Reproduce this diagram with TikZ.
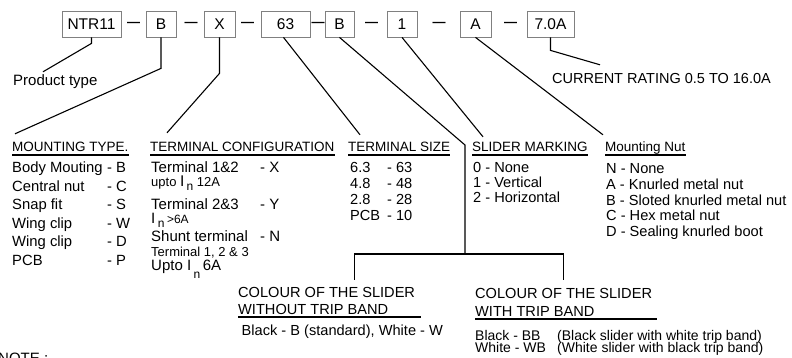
\documentclass[tikz,border=0pt]{standalone}
\usepackage{fontspec}
\setmainfont{Liberation Sans}
\begin{document}
\begin{tikzpicture}[x=1pt, y=-1pt,
    box/.style={draw=gray, line width=0.8pt, minimum height=26pt, inner sep=0pt, font=\fontsize{15.5}{18}\selectfont},
    lbl/.style={anchor=base west, inner sep=0pt, text height=10.5pt, text depth=0pt, font=\fontsize{14.6}{17}\selectfont},
    hd/.style={lbl, text height=10pt, font=\fontsize{13.5}{16}\selectfont,
        append after command={([yshift=-3pt]\tikzlastnode.base west) edge[line width=1.1pt] ([shift={(#1,-3pt)}]\tikzlastnode.base east)}},
    hd/.default=0pt,
    link/.style={line width=1.1pt}]
    \useasboundingbox (0,0) rectangle (792,358);
    % code boxes
    \node[box, minimum width=59pt] (ntr) at (91.5,24) {NTR11};
    \node[box, minimum width=30pt] (mtg) at (161,24) {B};
    \node[box, minimum width=31pt] (cfg) at (219.5,24) {X};
    \node[box, minimum width=49pt] (sz) at (285.5,24) {63};
    \node[box, minimum width=29pt] (col) at (339.5,24) {B};
    \node[box, minimum width=30pt] (mrk) at (402,24) {1};
    \node[box, minimum width=31pt] (nut) at (475.5,24) {A};
    \node[box, minimum width=47pt] (amp) at (550.5,24) {7.0A};
    \foreach \x [count=\i] in {133.5,191,247.5,318,371.5,439,510.5}
        \node[inner sep=0pt, font=\bfseries\fontsize{13}{16}\selectfont] (dash\i) at (\x,24) {—};
    % labels
    \node[lbl, font=\fontsize{15}{18}\selectfont] (lptype) at (13,86) {Product type};
    \node[lbl, font=\fontsize{14.5}{17}\selectfont] (lamp) at (552,83.3) {CURRENT RATING 0.5 TO 16.0A};
    \node[hd] (hmtg) at (12,152) {MOUNTING TYPE.};
    \node[hd] (hcfg) at (150,152) {TERMINAL CONFIGURATION};
    \node[hd] (hsz) at (348,152) {TERMINAL SIZE};
    \node[hd] (hmrk) at (472,152) {SLIDER MARKING};
    \node[hd] (hnut) at (605,152) {Mounting Nut};
    % lists
    \foreach \desc/\code [count=\i] in {Body Mouting/B, Central nut/C, Snap fit/S, Wing clip/W, Wing clip/D, PCB/P}
        \node[lbl, font=\fontsize{14.8}{18}\selectfont] (mtg\i) at (12,154.6+18.4*\i) {\makebox[95pt][l]{\desc}- \code};
    \node[lbl, font=\fontsize{15}{18}\selectfont] (cfg1) at (151,173) {\makebox[109pt][l]{Terminal 1\&2}- X};
    \node[lbl, font=\fontsize{13}{15}\selectfont] (cfg1n) at (151,187) {upto {\fontsize{15.5}{18}\selectfont I}\,\raisebox{-4pt}{\fontsize{12}{14}\selectfont n} 12A};
    \node[lbl, font=\fontsize{15}{18}\selectfont] (cfg2) at (151,209.3) {\makebox[109pt][l]{Terminal 2\&3}- Y};
    \node[lbl, font=\fontsize{15}{18}\selectfont] (cfg2n) at (151,223) {I\,\raisebox{-4pt}{\fontsize{12}{14}\selectfont n}\,{\fontsize{12}{14}\selectfont >6A}};
    \node[lbl, font=\fontsize{15}{18}\selectfont] (cfg3) at (151,241) {\makebox[109pt][l]{Shunt terminal}- N};
    \node[lbl, font=\fontsize{13}{15}\selectfont] (cfg3n) at (151,256) {Terminal 1, 2 \& 3};
    \node[lbl, font=\fontsize{15}{18}\selectfont] (cfg3m) at (151,270) {Upto I\,\raisebox{-8pt}{\fontsize{12}{14}\selectfont n}\,6A};
    \foreach \desc/\code [count=\i] in {6.3/63, 4.8/48, 2.8/28, PCB/10}
        \node[lbl] (sz\i) at (350,157.3+15.7*\i) {\makebox[37pt][l]{\desc}- \code};
    \foreach \code/\desc [count=\i] in {0/None, 1/Vertical, 2/Horizontal}
        \node[lbl] (mrk\i) at (473,158+14.7*\i) {\code{} - \desc};
    \foreach \code/\desc [count=\i] in {N/None, A/Knurled metal nut, B/Sloted knurled metal nut, C/Hex metal nut, D/Sealing knurled boot}
        \node[lbl] (nut\i) at (606,157.45+15.85*\i) {\code{} - \desc};
    % slider colour
    \node[lbl] (wo1) at (238,297.3) {COLOUR OF THE SLIDER};
    \node[hd=33pt, font=\fontsize{14.6}{17}\selectfont] (wo2) at (238,314) {WITHOUT TRIP BAND};
    \node[lbl] (wo3) at (241.5,335) {Black - B (standard), White - W};
    \node[lbl] (wi1) at (475,298) {COLOUR OF THE SLIDER};
    \node[hd=62pt, font=\fontsize{14.6}{17}\selectfont] (wi2) at (475,316) {WITH TRIP BAND};
    \node[lbl, font=\fontsize{14}{17}\selectfont] (wi3) at (475,340.5) {\makebox[82pt][l]{Black - BB}(Black slider with white trip band)};
    \node[lbl, font=\fontsize{14}{17}\selectfont] (wi4) at (475,352.5) {\makebox[82pt][l]{White - WB}(White slider with black trip band)};
    \node[lbl, font=\fontsize{15}{18}\selectfont] (note) at (-2,363) {NOTE :};
    % connectors
    \draw[link] (ntr.south) -- ++(0,6) -- ([shift={(30pt,3.5pt)}]lptype.north west);
    \draw[link] (mtg.south) -- ++(0,31) -- ([shift={(3pt,8pt)}]hmtg.north west);
    \draw[link] (cfg.south) -- ++(0,36) -- ([shift={(17pt,9pt)}]hcfg.north west);
    \draw[link] ([xshift=-2pt]sz.south) -- ([shift={(12pt,7pt)}]hsz.north west);
    \draw[link] (mrk.south) -- ([shift={(11pt,5pt)}]hmrk.north west);
    \draw[link] (nut.south) -- ([shift={(-2pt,7pt)}]hnut.north west);
    \draw[link] (amp.south) -- ++(0,13) -- ([shift={(48pt,7.8pt)}]lamp.north west);
    \coordinate (fork) at (465,254);
    \draw[link] (col.south) -- (465,145) -- (fork);
    \draw[link] ([shift={(28pt,7pt)}]wo1.north) |- (fork) -| ([yshift=7.5pt]wi1.north);
\end{tikzpicture}
\end{document}
